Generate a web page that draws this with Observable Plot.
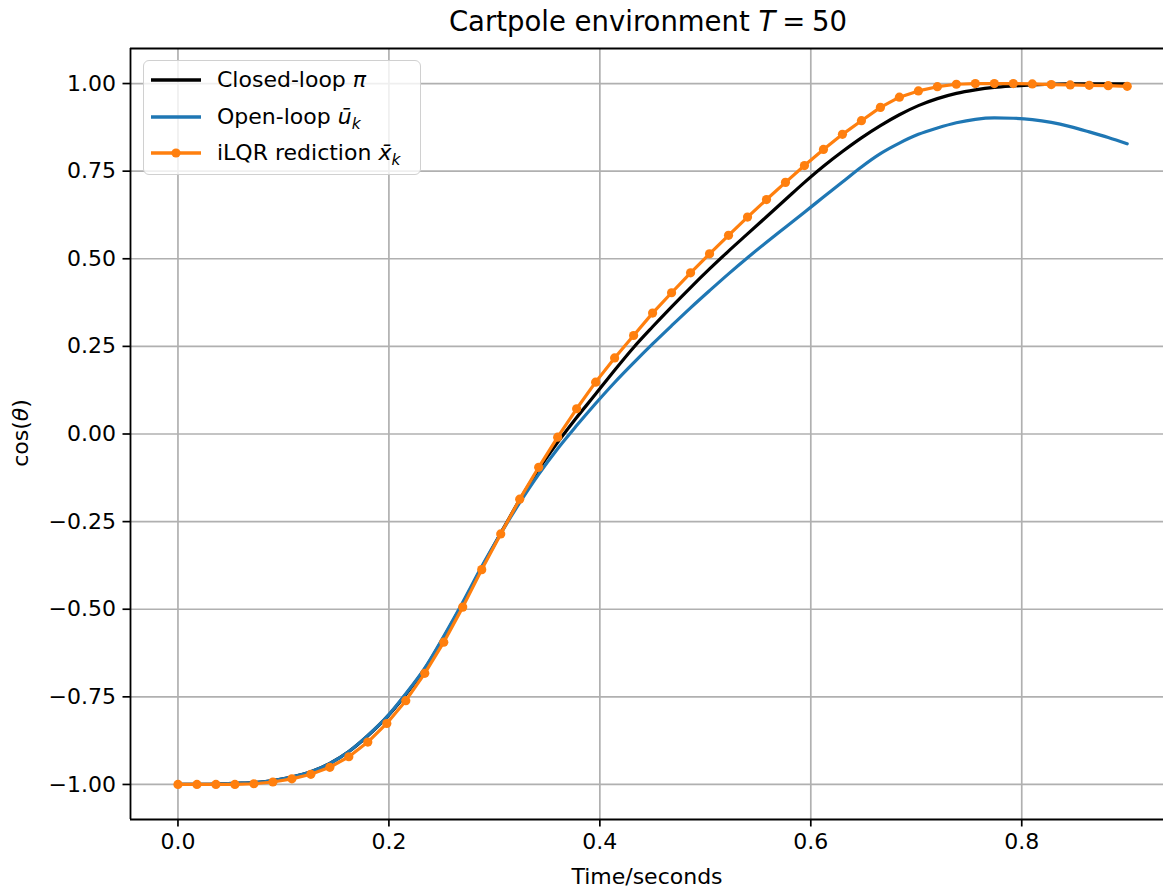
<!DOCTYPE html>
<html>
<head>
<meta charset="utf-8">
<script src="https://cdn.jsdelivr.net/npm/d3@7"></script>
<script src="https://cdn.jsdelivr.net/npm/@observablehq/plot@0.6"></script>
<style>
  html, body { margin: 0; padding: 0; background: white; }
  #wrap { position: relative; width: 1163px; height: 888px; overflow: hidden; font-family: "DejaVu Sans", sans-serif; color: black; }
  #title { position: absolute; left: 0; width: 1296px; top: 5px; text-align: center; font-size: 27.5px; line-height: 32px; white-space: nowrap; }
  #chart { position: absolute; left: 0; top: 40px; }
  #ylabel { position: absolute; left: 21px; top: 433px; transform: translate(-50%, -50%) rotate(-90deg); font-size: 22px; line-height: 26px; white-space: nowrap; }
  #legend { position: absolute; left: 143px; top: 60px; width: 278px; height: 115px; border: 1.7px solid #d0d0d0; border-radius: 6px; background: rgba(255,255,255,0.8); box-sizing: border-box; }
  .row { position: absolute; left: 0; height: 30px; width: 100%; }
  .row svg { position: absolute; left: 6px; top: 0; }
  .row span { position: absolute; left: 73px; top: 0; font-size: 22px; line-height: 30px; white-space: nowrap; }
  i { font-family: "DejaVu Sans"; font-style: oblique; }
  sub { font-size: 0.7em; vertical-align: -0.3em; line-height: 0; }
</style>
</head>
<body>
<div id="wrap">
  <div id="title">Cartpole environment <i>T</i>&#8197;=&#8197;50</div>
  <div id="chart"></div>
  <div id="ylabel">cos(<i>θ</i>)</div>
  <div id="legend">
    <div class="row" style="top:4px"><svg width="60" height="30"><line x1="1" x2="51" y1="15" y2="15" stroke="black" stroke-width="3.3"/></svg><span>Closed-loop <i>π</i></span></div>
    <div class="row" style="top:41px"><svg width="60" height="30"><line x1="1" x2="51" y1="15" y2="15" stroke="#1f77b4" stroke-width="3.3"/></svg><span>Open-loop <i>ū</i><sub><i>k</i></sub></span></div>
    <div class="row" style="top:77px"><svg width="60" height="30"><line x1="1" x2="51" y1="15" y2="15" stroke="#ff7f0e" stroke-width="3.3"/><circle cx="26" cy="15" r="4.6" fill="#ff7f0e"/></svg><span>iLQR rediction <i>x̄</i><sub><i>k</i></sub></span></div>
  </div>
</div>
<script>
// Time grid (seconds)
const time = [0.000,0.018,0.036,0.054,0.072,0.090,0.108,0.126,0.144,0.162,
              0.180,0.198,0.216,0.234,0.252,0.270,0.288,0.306,0.324,0.342,
              0.360,0.378,0.396,0.414,0.432,0.450,0.468,0.486,0.504,0.522,
              0.540,0.558,0.576,0.594,0.612,0.630,0.648,0.666,0.684,0.702,
              0.720,0.738,0.756,0.774,0.792,0.810,0.828,0.846,0.864,0.882,0.900];

// Closed-loop policy pi
const closedLoop = [-1.000,-1.000,-0.999,-0.997,-0.995,-0.989,-0.979,-0.964,-0.940,-0.906,
                    -0.861,-0.808,-0.743,-0.670,-0.580,-0.484,-0.382,-0.283,-0.188,-0.101,
                    -0.024,0.047,0.114,0.182,0.247,0.306,0.363,0.418,0.471,0.522,
                    0.571,0.620,0.669,0.718,0.764,0.806,0.845,0.880,0.911,0.937,
                    0.957,0.972,0.982,0.989,0.993,0.996,0.998,0.999,0.999,0.999,0.999];

// Open-loop u_k
const openLoop = [-1.000,-1.000,-0.999,-0.997,-0.995,-0.989,-0.979,-0.964,-0.940,-0.906,
                  -0.860,-0.807,-0.741,-0.668,-0.577,-0.480,-0.378,-0.284,-0.196,-0.115,
                  -0.042,0.024,0.087,0.147,0.203,0.257,0.309,0.360,0.409,0.457,
                  0.503,0.547,0.590,0.633,0.676,0.719,0.762,0.800,0.830,0.855,
                  0.873,0.888,0.898,0.902,0.901,0.897,0.889,0.877,0.862,0.846,0.828];

// iLQR prediction x_k
const ilqr = [-1.000,-1.000,-1.000,-1.000,-0.998,-0.993,-0.984,-0.971,-0.951,-0.921,
              -0.879,-0.826,-0.761,-0.683,-0.594,-0.494,-0.387,-0.285,-0.186,-0.095,
              -0.009,0.072,0.148,0.217,0.281,0.345,0.403,0.460,0.514,0.567,
              0.619,0.669,0.718,0.766,0.812,0.855,0.894,0.932,0.961,0.979,
              0.991,0.998,1.000,1.000,1.000,0.999,0.997,0.996,0.995,0.994,0.992];

const xTicks = [0.0, 0.2, 0.4, 0.6, 0.8];
const yTicks = [-1.00, -0.75, -0.50, -0.25, 0.00, 0.25, 0.50, 0.75, 1.00];

const mk = (vals) => time.map((t, i) => ({t, v: vals[i]}));
const dClosed = mk(closedLoop), dOpen = mk(openLoop), dIlqr = mk(ilqr);

const W = 1163, H = 848;
const xDom = [-0.045, 0.9344], yDom = [-1.1, 1.1];

const chart = Plot.plot({
  width: W, height: H,
  marginLeft: 130, marginRight: 0, marginTop: 8, marginBottom: 69,
  style: {fontFamily: "DejaVu Sans", fontSize: "22px", background: "white", color: "black", overflow: "visible"},
  x: {domain: xDom, label: null},
  y: {domain: yDom, label: null},
  marks: [
    Plot.gridX(xTicks, {stroke: "#b0b0b0", strokeOpacity: 1, strokeWidth: 1.7}),
    Plot.gridY(yTicks, {stroke: "#b0b0b0", strokeOpacity: 1, strokeWidth: 1.7}),
    Plot.line(dClosed, {x: "t", y: "v", stroke: "black", strokeWidth: 3.2, curve: "monotone-x"}),
    Plot.line(dOpen, {x: "t", y: "v", stroke: "#1f77b4", strokeWidth: 3.2, curve: "monotone-x"}),
    Plot.line(dIlqr, {x: "t", y: "v", stroke: "#ff7f0e", strokeWidth: 3.2}),
    Plot.dot(dIlqr, {x: "t", y: "v", fill: "#ff7f0e", r: 4.6}),
    Plot.ruleX([xDom[0]], {stroke: "black", strokeWidth: 1.8}),
    Plot.ruleY([yDom[0]], {stroke: "black", strokeWidth: 1.8}),
    Plot.ruleY([yDom[1]], {stroke: "black", strokeWidth: 1.8}),
    Plot.axisX(xTicks, {tickFormat: d3.format(".1f"), tickSize: 7.5, tickPadding: 6, strokeWidth: 1.7, fontSize: 22, label: null}),
    Plot.axisY(yTicks, {tickFormat: d3.format(".2f"), tickSize: 7.5, tickPadding: 7, strokeWidth: 1.7, fontSize: 22, label: null}),
    Plot.text(["Time/seconds"], {frameAnchor: "bottom", dy: 64, fontSize: 22})
  ]
});
document.getElementById("chart").appendChild(chart);
</script>
</body>
</html>
